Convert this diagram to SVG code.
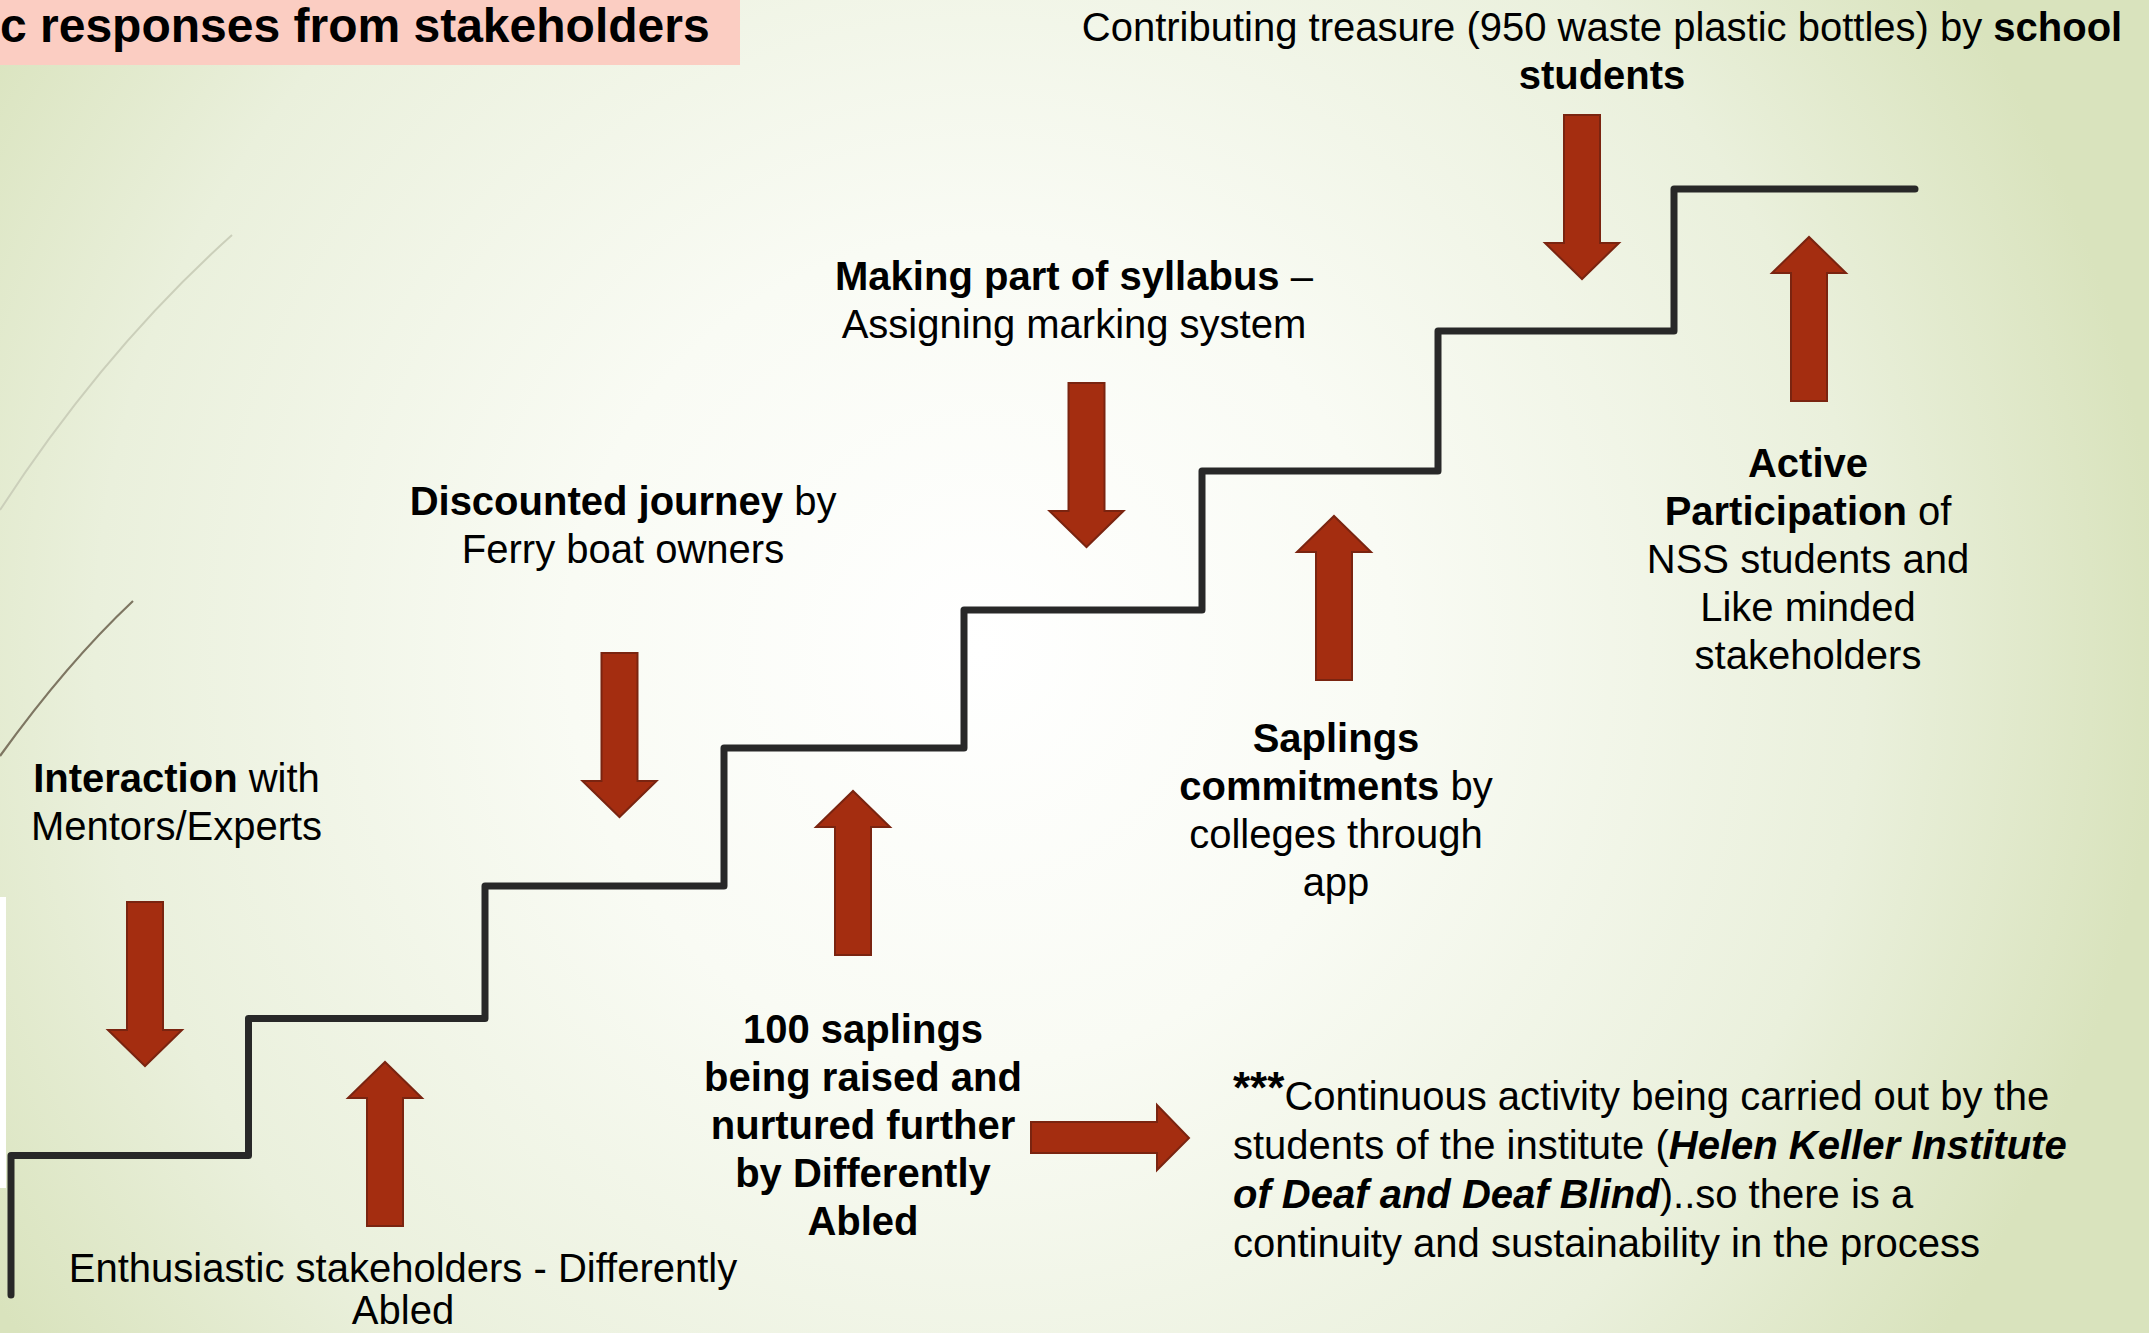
<svg xmlns="http://www.w3.org/2000/svg" xmlns:xlink="http://www.w3.org/1999/xlink" width="2149" height="1333" viewBox="0 0 2149 1333">
<defs>
<radialGradient id="bg" gradientUnits="userSpaceOnUse" cx="980" cy="650" r="1180">
<stop offset="0" stop-color="#FFFFFF"/>
<stop offset="0.35" stop-color="#F9FBF4"/>
<stop offset="0.75" stop-color="#EAF0DC"/>
<stop offset="1" stop-color="#D9E3BD"/>
</radialGradient>
<path id="arrowDown" d="M-18,0 H18 V128 H37 L0,164 L-37,128 H-18 Z"/>
</defs>
<style>
text{font-family:"Liberation Sans",Arial,sans-serif;font-size:40px;fill:#000}
.c{text-anchor:middle}
.b{font-weight:bold}
.bi{font-weight:bold;font-style:italic}
.arrow{fill:#A42D10;stroke:#7A2410;stroke-width:2;stroke-linejoin:miter}
.stair{fill:none;stroke:#282828;stroke-width:7;stroke-linecap:round;stroke-linejoin:round}
</style>
<rect width="2149" height="1333" fill="url(#bg)"/>
<path d="M232,235 Q104,350 0,510" fill="none" stroke="#CBCFBA" stroke-width="2"/>
<path d="M133,601 Q67,663 0,756" fill="none" stroke="#7E7662" stroke-width="2.2"/>
<rect x="0" y="897" width="6" height="291" fill="#FFFFFF"/>
<g id="title">
<rect x="0" y="0" width="740" height="65" fill="#FBCDC2"/>
<text x="0" y="42" class="b" style="font-size:48px">c responses from stakeholders</text>
</g>
<g id="staircase">
<polyline class="stair" points="11,1295 11,1155.5 248.5,1155.5 248.5,1018.5 485,1018.5 485,886 724,886 724,748 964,748 964,610 1202,610 1202,471 1438,471 1438,331 1674,331 1674,189 1915,189"/>
</g>
<g id="connectors">
<use xlink:href="#arrowDown" class="arrow" transform="translate(145,902)"/>
<use xlink:href="#arrowDown" class="arrow" transform="translate(619.5,653)"/>
<use xlink:href="#arrowDown" class="arrow" transform="translate(1086.5,383)"/>
<use xlink:href="#arrowDown" class="arrow" transform="translate(1582,115)"/>
<use xlink:href="#arrowDown" class="arrow" transform="translate(385,1226) rotate(180)"/>
<use xlink:href="#arrowDown" class="arrow" transform="translate(853,955) rotate(180)"/>
<use xlink:href="#arrowDown" class="arrow" transform="translate(1334,680) rotate(180)"/>
<use xlink:href="#arrowDown" class="arrow" transform="translate(1809,401) rotate(180)"/>
<path class="arrow" d="M1031,1122 H1157 V1105 L1189,1138 L1157,1170 V1153 H1031 Z"/>
</g>
<g id="interaction">
<text class="c" x="176.5" y="792"><tspan class="b">Interaction</tspan> with</text>
<text class="c" x="176.5" y="840">Mentors/Experts</text>
</g>
<g id="enthusiastic">
<text class="c" x="403" y="1282">Enthusiastic stakeholders - Differently</text>
<text class="c" x="403" y="1324">Abled</text>
</g>
<g id="saplings100">
<text class="c b" x="863" y="1043">100 saplings</text>
<text class="c b" x="863" y="1091">being raised and</text>
<text class="c b" x="863" y="1139">nurtured further</text>
<text class="c b" x="863" y="1187">by Differently</text>
<text class="c b" x="863" y="1235">Abled</text>
</g>
<g id="discounted">
<text class="c" x="623" y="515"><tspan class="b">Discounted journey</tspan> by</text>
<text class="c" x="623" y="563">Ferry boat owners</text>
</g>
<g id="syllabus">
<text class="c" x="1074" y="290"><tspan class="b">Making part of syllabus</tspan> –</text>
<text class="c" x="1074" y="338">Assigning marking system</text>
</g>
<g id="commitments">
<text class="c b" x="1336" y="752">Saplings</text>
<text class="c" x="1336" y="800"><tspan class="b">commitments</tspan> by</text>
<text class="c" x="1336" y="848">colleges through</text>
<text class="c" x="1336" y="896">app</text>
</g>
<g id="participation">
<text class="c b" x="1808" y="477">Active</text>
<text class="c" x="1808" y="525"><tspan class="b">Participation</tspan> of</text>
<text class="c" x="1808" y="573">NSS students and</text>
<text class="c" x="1808" y="621">Like minded</text>
<text class="c" x="1808" y="669">stakeholders</text>
</g>
<g id="treasure">
<text class="c" x="1602" y="41">Contributing treasure (950 waste plastic bottles) by <tspan class="b">school</tspan></text>
<text class="c b" x="1602" y="89">students</text>
</g>
<g id="continuous">
<text x="1233" y="1110"><tspan class="b" dy="-7" style="font-size:44px">***</tspan><tspan dy="7">Continuous activity being carried out by the</tspan></text>
<text x="1233" y="1159">students of the institute (<tspan class="bi">Helen Keller Institute</tspan></text>
<text x="1233" y="1208"><tspan class="bi">of Deaf and Deaf Blind</tspan>)..so there is a</text>
<text x="1233" y="1257">continuity and sustainability in the process</text>
</g>
</svg>
